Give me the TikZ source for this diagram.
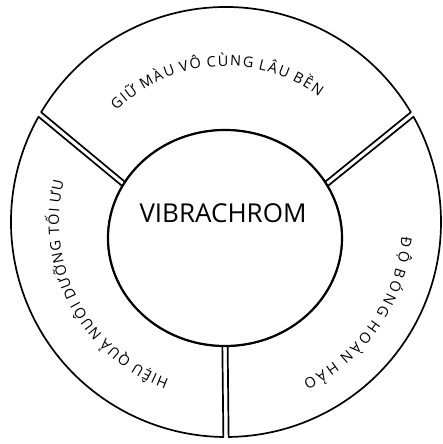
\documentclass[tikz,border=0pt]{standalone}
\usepackage{fontspec}
\newfontfamily\arcfont{Open Sans}
\usetikzlibrary{calc,decorations.text,shapes.geometric}
\newcommand\ringseg[2]{%
  \path[seg] ($(Co)+({#1+0.7}:215pt)$)
    arc[start angle={#1+0.7}, end angle={#2-0.7}, radius=215pt]
    -- ($(Ci)+({#2-1.3}:117pt and 108pt)$)
    arc[start angle={#2-1.3}, end angle={#1+1.3}, x radius=117pt, y radius=108pt]
    -- cycle;}
\newcommand\lk{\kern1.5pt}
\newcommand\arctext[3]{%
  \path[decorate, decoration={text along path, text align=center,
      text={|\arcfont\fontsize{14.5}{17}\selectfont|#1}}]
    ($(Co)+({#2+60}:#3)$) arc[start angle={#2+60}, end angle={#2-60}, radius=#3];}
\begin{document}
\begin{tikzpicture}[x=1pt,y=1pt,
  seg/.style={draw=black, line width=1.7pt, fill=white, line join=round},
  hub/.style={ellipse, draw=black, line width=2.2pt, fill=white,
    minimum width=234pt, minimum height=216pt, inner sep=0pt},
  title/.style={font=\arcfont\fontsize{26}{30}\selectfont, text=black, inner sep=0pt}]
\useasboundingbox (0,0) rectangle (442,444);
\coordinate (Co) at (226,222);
\coordinate (Ci) at (225,206);
\ringseg{30}{150}
\ringseg{150}{270}
\ringseg{-90}{30}
\node[hub] (hub) at (Ci) {};
\node[title] (name) at (223,231) {VIBRACHROM};
\renewcommand\lk{\kern1.6pt}
\arctext{{G\lk}{I\lk}{Ữ\lk} {M\lk}{À\lk}{U\lk} {V\lk}{Ô\lk} {C\lk}{Ù\lk}{N\lk}{G\lk} {L\lk}{Â\lk}{U\lk} {B\lk}{Ề\lk}{N}}{94}{156pt}
\renewcommand\lk{\kern1.3pt}
\arctext{{H\lk}{I\lk}{Ệ\lk}{U\lk} {Q\lk}{U\lk}{Ả\lk} {N\lk}{U\lk}{Ô\lk}{I\lk} {D\lk}{Ư\lk}{Ỡ\lk}{N\lk}{G\lk} {T\lk}{Ố\lk}{I\lk} {Ư\lk}{U}}{208}{167pt}
\renewcommand\lk{\kern2.8pt}
\arctext{{Đ\lk}{Ộ\lk} {B\lk}{Ó\lk}{N\lk}{G\lk} {H\lk}{O\lk}{À\lk}{N\lk} {H\lk}{Ả\lk}{O}}{-34.5}{176pt}
\end{tikzpicture}
\end{document}
